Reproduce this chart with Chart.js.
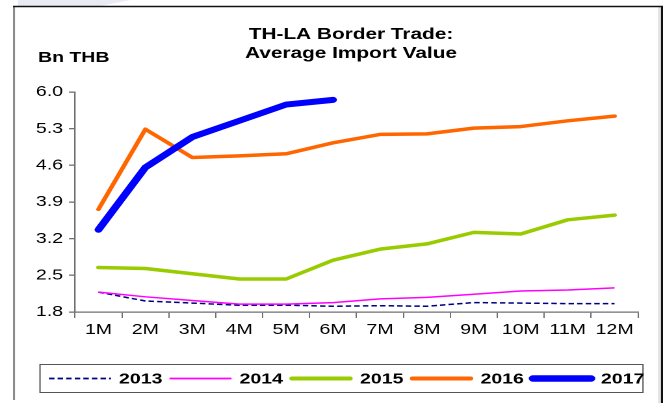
<!DOCTYPE html>
<html lang="en">
<head>
<meta charset="UTF-8">
<title>TH-LA Border Trade: Average Import Value</title>
<script src="https://cdn.jsdelivr.net/npm/chart.js@4.4.1/dist/chart.umd.min.js"></script>
<style>
  html, body { margin: 0; padding: 0; background: #fff; overflow: hidden; }
  #stage { width: 667px; height: 403px; position: relative; overflow: hidden; }
  #wrap { position: absolute; left: 0; top: 0; height: 403px; transform-origin: 0 0; }
</style>
</head>
<body>
<div id="stage"><div id="wrap"><canvas id="chart"></canvas></div></div>
<script>
const months = ['1M', '2M', '3M', '4M', '5M', '6M', '7M', '8M', '9M', '10M', '11M', '12M'];
const yTickValues = [1.8, 2.5, 3.2, 3.9, 4.6, 5.3, 6.0];
const seriesNames = ['2013', '2014', '2015', '2016', '2017'];
const v2013 = [2.18, 2.01, 1.97, 1.93, 1.93, 1.91, 1.92, 1.91, 1.98, 1.97, 1.96, 1.96];
const v2014 = [2.18, 2.09, 2.02, 1.95, 1.95, 1.98, 2.05, 2.08, 2.14, 2.20, 2.22, 2.26];
const v2015 = [2.65, 2.63, 2.53, 2.43, 2.43, 2.79, 3.00, 3.10, 3.32, 3.29, 3.56, 3.65];
const v2016 = [3.76, 5.29, 4.75, 4.78, 4.82, 5.03, 5.19, 5.20, 5.31, 5.34, 5.45, 5.54];
const v2017 = [3.37, 4.56, 5.14, 5.45, 5.76, 5.85];

// the old spreadsheet export is wide: draw narrow, then stretch sideways
const S = 1.3;
const W = 667 / S;
const px = x => x / S;
const FONT = "'Liberation Sans', Arial, sans-serif";

const wrap = document.getElementById('wrap');
wrap.style.width = W + 'px';
wrap.style.transform = 'scaleX(' + S + ')';

const styles = [
  { color: '#000080', width: 1.5, dash: [4.2, 2.4], legendWidth: 1.8, cap: 'butt' },
  { color: '#ff00ff', width: 1.5, dash: [], legendWidth: 1.8, cap: 'butt' },
  { color: '#99cc00', width: 3.5, dash: [], legendWidth: 4, cap: 'round' },
  { color: '#ff6600', width: 3.5, dash: [], legendWidth: 4, cap: 'round' },
  { color: '#0000ff', width: 6, dash: [], legendWidth: 6.5, cap: 'round' }
];
const values = [v2013, v2014, v2015, v2016, v2017];

const datasets = seriesNames.map((name, i) => ({
  label: name,
  data: values[i],
  borderColor: styles[i].color,
  backgroundColor: styles[i].color,
  borderWidth: styles[i].width,
  borderDash: styles[i].dash,
  borderCapStyle: styles[i].cap,
  borderJoinStyle: 'round',
  pointRadius: 0,
  tension: 0,
  fill: false,
  order: 5 - i
}));

// frame around the whole picture
const framePlugin = {
  id: 'frame',
  beforeDraw(chart) {
    const ctx = chart.ctx;
    ctx.save();
    ctx.fillStyle = '#fff';
    ctx.fillRect(0, 0, W, 403);
    ctx.fillStyle = '#e9ebf3';
    ctx.beginPath();
    ctx.moveTo(px(18), 0);
    ctx.lineTo(px(130), 0);
    ctx.lineTo(px(100), 6);
    ctx.lineTo(px(18), 6);
    ctx.closePath();
    ctx.fill();
    ctx.fillStyle = '#e2e2e2';
    ctx.fillRect(px(658), 7, px(3), 396);
    ctx.strokeStyle = '#8c8c8c';
    ctx.lineWidth = px(2);
    ctx.beginPath();
    ctx.moveTo(px(14), 6);
    ctx.lineTo(px(14), 400);
    ctx.stroke();
    ctx.strokeStyle = '#111';
    ctx.lineWidth = 1.6;
    ctx.beginPath();
    ctx.moveTo(px(13), 6.5);
    ctx.lineTo(px(663), 6.5);
    ctx.stroke();
    ctx.lineWidth = px(2);
    ctx.beginPath();
    ctx.moveTo(px(662), 6);
    ctx.lineTo(px(662), 403);
    ctx.stroke();
    ctx.restore();
  }
};

// title, unit label and boxed legend
const textPlugin = {
  id: 'texts',
  afterDraw(chart) {
    const ctx = chart.ctx;
    ctx.save();
    ctx.fillStyle = '#000';
    ctx.font = 'bold 16px ' + FONT;
    ctx.textAlign = 'center';
    ctx.textBaseline = 'alphabetic';
    ctx.fillText('TH-LA Border Trade:', px(351), 39);
    ctx.fillText('Average Import Value', px(351), 58);
    ctx.font = 'bold 15px ' + FONT;
    ctx.textAlign = 'left';
    ctx.fillText('Bn THB', px(38), 62);

    ctx.strokeStyle = '#555';
    ctx.lineWidth = 1;
    ctx.strokeRect(px(40), 364.5, px(643) - px(40), 28);
    chart.data.datasets.forEach((ds, i) => {
      const st = styles[i];
      const x0 = px(49 + i * 120.5);
      const y = 378.5;
      ctx.strokeStyle = st.color;
      ctx.lineWidth = st.legendWidth;
      ctx.lineCap = st.cap;
      ctx.setLineDash(st.dash);
      ctx.beginPath();
      ctx.moveTo(x0 + (st.cap === 'round' ? 1.5 : 0), y);
      ctx.lineTo(x0 + px(62) - (st.cap === 'round' ? 1.5 : 0), y);
      ctx.stroke();
      ctx.setLineDash([]);
      ctx.fillStyle = '#000';
      ctx.font = 'bold 15px ' + FONT;
      ctx.textBaseline = 'middle';
      ctx.fillText(ds.label, x0 + px(70), y + 1);
    });
    ctx.restore();
  }
};

new Chart(document.getElementById('chart'), {
  type: 'line',
  data: { labels: months, datasets: datasets },
  plugins: [framePlugin, textPlugin],
  options: {
    responsive: true,
    maintainAspectRatio: false,
    devicePixelRatio: 2,
    animation: false,
    layout: { padding: { top: 92, left: 0, right: W - px(638), bottom: 63 } },
    plugins: { legend: { display: false }, tooltip: { enabled: false } },
    scales: {
      x: {
        offset: true,
        afterFit: s => { s.height = 28; },
        grid: { offset: true, drawOnChartArea: false, tickLength: 6, color: '#707070', lineWidth: px(1.3) },
        border: { color: '#707070', width: 1.3 },
        ticks: { color: '#000', font: { family: FONT, size: 15 }, padding: 3, maxRotation: 0, autoSkip: false }
      },
      y: {
        min: 1.8,
        max: 6.0,
        afterFit: s => { s.width = px(75); },
        afterBuildTicks: s => { s.ticks = yTickValues.map(v => ({ value: v })); },
        grid: { drawOnChartArea: false, tickLength: px(6), color: '#707070', lineWidth: 1.3 },
        border: { color: '#707070', width: px(1.5) },
        ticks: { color: '#000', font: { family: FONT, size: 15 }, padding: px(6), callback: v => v.toFixed(1) }
      }
    }
  }
});
</script>
</body>
</html>
